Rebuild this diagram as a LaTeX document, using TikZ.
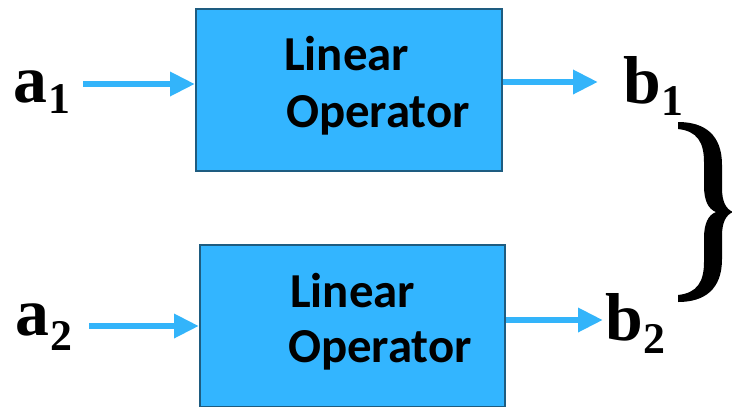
\documentclass[tikz,border=0pt]{standalone}
\usepackage{fontspec}
\setmainfont{Liberation Serif}
\newfontfamily\boxfont{Carlito}
\usetikzlibrary{arrows.meta}
\definecolor{opfill}{RGB}{51,181,255}
\definecolor{opedge}{RGB}{30,92,128}
\definecolor{flowcol}{RGB}{51,180,250}
\tikzset{
  opbox/.style={draw=opedge, line width=2bp, fill=opfill, inner sep=0pt},
  optext/.style={font=\boxfont\bfseries\fontsize{49}{57}\selectfont, anchor=base west, inner sep=0pt},
  sig/.style={font=\bfseries\fontsize{68}{68}\selectfont, anchor=base west, inner sep=0pt},
  flow/.style={draw=flowcol, line width=6.5bp, -{Triangle[length=25bp, width=23bp]}},
}
\newcommand{\sigsub}[2]{\kern1bp\raisebox{-#1bp}{\fontsize{44}{44}\selectfont\bfseries #2}}
\begin{document}
\begin{tikzpicture}[x=1bp, y=-1bp]
  \useasboundingbox (0,0) rectangle (732,406);

  % operator blocks
  \node[opbox, minimum width=306bp, minimum height=162bp] (box1) at (349,90) {};
  \node[opbox, minimum width=305bp, minimum height=162bp] (box2) at (352.5,326) {};
  \node[optext] (box1l1) at (284,70) {Linear};
  \node[optext] (box1l2) at (286,127) {Operator};
  \node[optext] (box2l1) at (290,307) {Linear};
  \node[optext] (box2l2) at (288,362) {Operator};

  % input and output signals
  \node[sig] (a1) at (13,102) {a\sigsub{11}{1}};
  \node[sig] (a2) at (15,335) {a\sigsub{15}{2}};
  \node[sig] (b1) at (623,103) {b\sigsub{12}{1}};
  \node[sig] (b2) at (605,340) {b\sigsub{13}{2}};

  % arrow end points
  \coordinate (a1s) at (83,84);
  \coordinate (a2s) at (89,326);
  \coordinate (b1e) at (598,82);
  \coordinate (b2e) at (603,320);

  \draw[flow] (a1s) -- (a1s -| box1.west);
  \draw[flow] (a2s) -- (a2s -| box2.west);
  \draw[flow] (b1e -| box1.east) -- (b1e);
  \draw[flow] (b2e -| box2.east) -- (b2e);

  % curly brace grouping the outputs
  \fill[black] (678,122)
    .. controls (705,122) and (722,135) .. (722,165)
    -- (722,188)
    .. controls (722,202) and (726,209) .. (733,212)
    .. controls (726,215) and (722,222) .. (722,236)
    -- (722,259)
    .. controls (722,289) and (705,302) .. (678,302)
    -- (678,295)
    .. controls (697,293) and (704,282) .. (704,262)
    -- (704,238)
    .. controls (704,224) and (708,215) .. (716,212)
    .. controls (708,209) and (704,200) .. (704,186)
    -- (704,162)
    .. controls (704,142) and (697,131) .. (678,129)
    -- cycle;
\end{tikzpicture}
\end{document}
